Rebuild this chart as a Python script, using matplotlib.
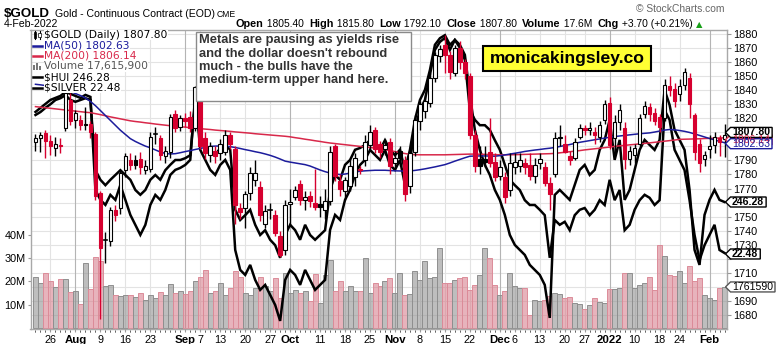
import matplotlib
matplotlib.use("Agg")
import matplotlib.pyplot as plt
import matplotlib.transforms as mtrans
from matplotlib.patches import Rectangle, Polygon
import numpy as np
import pandas as pd

W, H = 776, 344

# ---- trading calendar ----
holidays = pd.to_datetime(["2021-09-06", "2021-11-25", "2021-12-24", "2022-01-17"])
days = pd.bdate_range("2021-07-21", "2022-02-04")
days = days[~days.isin(holidays)]

# ---- $GOLD daily OHLC ----
opens = [1803, 1806, 1809.5, 1804, 1799, 1801, 1813, 1833, 1819, 1819, 1815, 1816, 1808.8, 1766.8,
         1733, 1732.4, 1755, 1756, 1783.4, 1790, 1790, 1791, 1783, 1784, 1809, 1806, 1793, 1796,
         1823, 1814, 1820, 1821, 1813, 1842, 1806, 1794, 1797, 1795, 1796, 1808, 1798, 1756,
         1756, 1767, 1776, 1771, 1745, 1754, 1751, 1736, 1726, 1759, 1764, 1773, 1762, 1765,
         1760, 1759, 1755, 1761, 1800, 1775, 1768, 1772, 1778, 1784, 1790, 1801, 1812, 1802,
         1798, 1803, 1788, 1797, 1790, 1772, 1796, 1818, 1825, 1831, 1849, 1864, 1872, 1865,
         1852, 1870, 1860, 1850, 1808, 1791, 1791, 1796, 1789, 1779, 1778, 1769, 1785, 1786,
         1788, 1787, 1779, 1788, 1785, 1774, 1780, 1806, 1802, 1793, 1792, 1807, 1813, 1812,
         1810, 1807, 1819, 1831, 1806, 1817, 1813, 1791, 1794, 1802, 1823, 1828, 1824, 1821,
         1820, 1843, 1841, 1837, 1844, 1849, 1822, 1802, 1791, 1798, 1801, 1806, 1805.4]
highs = [1809, 1810, 1812, 1808, 1807, 1806, 1841, 1838, 1826, 1822, 1828, 1818, 1810, 1768,
         1739, 1757, 1758, 1783, 1795, 1795, 1794, 1796, 1790, 1810, 1814, 1808, 1800, 1823,
         1826, 1822, 1824, 1825, 1843, 1845, 1810, 1803, 1800, 1805, 1812, 1810, 1800, 1760,
         1768, 1785, 1790, 1775, 1758, 1760, 1755, 1740, 1762, 1770, 1772, 1776, 1768, 1768,
         1784, 1765, 1770, 1800, 1802, 1780, 1778, 1790, 1795, 1786, 1808, 1815, 1814, 1804,
         1805, 1806, 1797, 1800, 1793, 1797, 1822, 1832, 1836, 1852, 1867, 1872, 1879, 1868,
         1872, 1875, 1862, 1852, 1812, 1800, 1800, 1820, 1795, 1790, 1782, 1795, 1795, 1795,
         1792, 1795, 1792, 1795, 1789, 1778, 1810, 1815, 1808, 1797, 1806, 1816, 1815, 1817,
         1814, 1818, 1833, 1835, 1822, 1830, 1817, 1800, 1802, 1823, 1832, 1831, 1827, 1823,
         1848, 1850, 1845, 1848, 1856, 1852, 1824, 1805, 1797, 1808, 1810, 1808, 1815.8]
lows = [1797, 1796, 1792, 1794, 1793, 1795, 1811, 1815, 1813, 1812, 1812, 1806, 1762, 1677,
        1717, 1729, 1747, 1752, 1778, 1783, 1784, 1780, 1780, 1782, 1802, 1790, 1788, 1792,
        1810, 1811, 1814, 1810, 1811, 1798, 1791, 1789, 1788, 1790, 1794, 1798, 1745, 1748,
        1742, 1762, 1772, 1747, 1742, 1748, 1736, 1721, 1723, 1743, 1762, 1758, 1755, 1757,
        1755, 1750, 1748, 1758, 1775, 1765, 1762, 1768, 1772, 1780, 1786, 1798, 1795, 1792,
        1794, 1780, 1784, 1786, 1761, 1767, 1793, 1812, 1820, 1828, 1846, 1860, 1852, 1848,
        1850, 1855, 1848, 1805, 1782, 1780, 1785, 1785, 1775, 1776, 1760, 1765, 1780, 1782,
        1780, 1776, 1774, 1784, 1772, 1755, 1778, 1800, 1795, 1787, 1790, 1805, 1808, 1808,
        1802, 1803, 1816, 1798, 1795, 1812, 1784, 1787, 1788, 1800, 1820, 1818, 1815, 1810,
        1818, 1836, 1828, 1832, 1840, 1820, 1790, 1782, 1786, 1792, 1795, 1793, 1792.1]
closes = [1806, 1808, 1803.6, 1800, 1802, 1800, 1838, 1818, 1824, 1815.5, 1816, 1810, 1764.5, 1727.7,
          1733.6, 1755, 1751.4, 1780.8, 1792.9, 1787, 1787, 1785, 1786, 1807, 1808.5, 1794, 1797, 1821,
          1813, 1820, 1818, 1813, 1842, 1800, 1795, 1800, 1793, 1802, 1808, 1802, 1758, 1753,
          1766, 1781, 1781, 1751, 1754, 1754.5, 1738, 1723, 1758, 1760.5, 1769, 1762, 1764, 1761,
          1757, 1757, 1761, 1796, 1779, 1770, 1776, 1786, 1792, 1783, 1803, 1810, 1798, 1796,
          1801, 1786, 1792, 1792, 1766, 1795, 1819, 1830, 1832, 1849, 1865, 1869, 1865, 1853,
          1870, 1860, 1852, 1808, 1786, 1786, 1789, 1788, 1778, 1785, 1764, 1788, 1789, 1790,
          1785, 1779, 1787, 1791, 1774, 1766, 1806, 1807, 1796, 1790, 1803, 1813, 1811.5, 1813,
          1808, 1815, 1830, 1801, 1817, 1826, 1791, 1797, 1799, 1820, 1829, 1823, 1818, 1814,
          1844, 1840, 1832, 1843, 1853, 1830, 1796, 1788, 1794, 1800, 1807, 1803, 1807.8]

# ---- volume, millions ----
volume = [21.8, 19.2, 23.6, 20.2, 17.5, 20.9, 20.9, 15.3, 15.9, 10.2, 28.0, 16.6, 30.6, 28.8,
          18.0, 18.6, 14.0, 13.6, 14.3, 14.3, 13.5, 15.0, 12.0, 14.0, 13.0, 15.5, 14.0, 19.0,
          15.0, 16.0, 14.5, 16.0, 20.0, 22.0, 25.0,
          15.0, 15.7, 19.3, 14.3, 17.1, 24.6, 22.1, 15.0, 14.3, 17.1, 22.1, 17.9, 15.7, 21.4,
          13.0, 23.6, 15.0, 16.5, 15.0, 16.0, 11.5, 23.1, 10.7, 22.9, 29.3, 16.0, 20.0, 16.0,
          18.0, 16.0, 16.0, 30.0, 15.0, 19.3, 18.0,
          20.0, 21.4, 15.0, 23.6, 14.3, 14.6, 24.3, 20.7, 28.6, 21.4, 22.1, 34.3, 19.3, 19.3,
          20.7, 21.4, 22.1, 16.4, 18.6, 22.9, 34.3, 30.0, 18.6, 14.3, 15.7, 23.6, 17.9, 17.1,
          17.1, 5.7, 12.1, 11.4, 12.1, 13.6,
          15.0, 14.6, 12.9, 13.1, 10.7, 10.3, 8.1, 10.0, 13.0, 11.0, 10.7, 16.7, 16.7, 17.0,
          23.6, 23.6, 17.1, 18.6, 19.3, 21.7, 16.4, 35.7, 31.1, 22.9, 22.4, 24.3, 19.3, 26.4,
          20.0, 21.4, 14.3, 12.9, 12.1, 17.1, 17.6]

# ---- moving averages ----
ma50 = [1844.2, 1843.8, 1843.3, 1842.7, 1842.0, 1841.2, 1840.2,
        1839.0, 1837.6, 1836.2, 1834.5, 1832.0, 1829.0, 1825.5,
        1822.0, 1818.5, 1815.0, 1811.5, 1808.5, 1805.5,
        1803.5, 1801.8, 1800.2, 1799.0, 1797.5, 1796.0, 1795.0,
        1794.6, 1794.8, 1795.5, 1796.3, 1797.0, 1797.8, 1798.5, 1799.3, 1800.0,
        1800.2, 1800.3, 1800.2, 1799.8, 1799.2, 1798.5, 1797.7,
        1797.0, 1796.2, 1795.5, 1794.6, 1793.6, 1792.4, 1791.0, 1789.5,
        1788.8, 1788.2, 1787.6, 1787.0, 1786.0, 1784.6, 1783.2,
        1782.0, 1781.0, 1780.3, 1780.0, 1780.3, 1781.0, 1781.8,
        1782.3, 1782.6, 1782.8, 1783.0, 1783.0, 1783.0, 1782.8, 1782.6, 1782.5, 1782.4, 1782.5,
        1782.9, 1783.4, 1784.0, 1784.7, 1785.4, 1786.2, 1787.0, 1788.2, 1789.5, 1790.7, 1791.9, 1793.0,
        1793.1, 1793.2, 1793.2, 1793.1, 1793.0, 1793.4, 1793.9, 1794.5, 1795.1, 1795.7, 1796.4,
        1796.9, 1797.4, 1797.8, 1798.3, 1798.7, 1799.2, 1799.9, 1800.6, 1801.3, 1802.1, 1802.9,
        1803.5, 1804.1, 1804.7, 1805.3, 1805.9, 1806.5, 1807.0, 1807.4, 1807.8, 1808.2, 1808.6,
        1809.0, 1809.3, 1809.6,
        1810.2, 1810.9, 1811.6, 1812.0, 1811.8, 1811.3, 1810.7, 1809.9, 1808.9, 1807.8, 1806.7,
        1805.6, 1804.6, 1803.6, 1802.6]
ma200 = [1828.3, 1827.9, 1827.5, 1827.1, 1826.7, 1826.3, 1825.9, 1825.5, 1825.1, 1824.7, 1824.3, 1824.0,
         1823.3, 1822.6, 1821.8, 1821.0, 1820.3, 1819.6, 1818.9, 1818.2,
         1817.7, 1817.3, 1816.8, 1816.4, 1815.9, 1815.5, 1815.1,
         1814.7, 1814.4, 1814.0, 1813.7, 1813.3, 1813.0, 1812.6, 1812.3, 1812.0,
         1811.6, 1811.3, 1811.0, 1810.7, 1810.3, 1810.0, 1809.7, 1809.4, 1809.0,
         1808.7, 1808.4, 1808.1, 1807.8, 1807.5, 1807.2, 1806.8,
         1806.2, 1805.7, 1805.1, 1804.6, 1804.0, 1803.5, 1802.9, 1802.4,
         1802.0, 1801.6, 1801.2, 1800.8, 1800.4, 1800.0, 1799.6, 1799.2, 1798.8, 1798.4,
         1797.7, 1797.0, 1796.3, 1795.6, 1794.9, 1794.3,
         1794.1, 1794.0, 1794.0, 1794.0, 1794.0, 1794.0, 1794.0, 1794.1, 1794.2, 1794.3,
         1794.4, 1794.5, 1794.5, 1794.4, 1794.3, 1794.2, 1794.1, 1794.0, 1794.0, 1794.0,
         1794.1, 1794.2, 1794.3, 1794.4, 1794.5, 1794.6, 1794.7, 1794.8, 1795.0,
         1795.4, 1795.8, 1796.2, 1796.6, 1797.0, 1797.5, 1797.9, 1798.3, 1798.7, 1799.1, 1799.5, 1800.0,
         1800.4, 1800.7, 1801.1, 1801.4, 1801.8, 1802.1, 1802.5,
         1802.9, 1803.3, 1803.7, 1804.1, 1804.5, 1805.0,
         1805.1, 1805.2, 1805.3, 1805.4, 1805.6, 1805.7, 1805.8, 1806.0, 1806.1]

# ---- overlays ----
hui = [264.3, 265.1, 265.9, 266.7, 267.1, 267.5, 268.3, 267.9, 267.5, 267.1, 267.7, 267.3,
       248.7, 246.7, 245.7, 247.7, 246.7, 249.7, 246.7, 243.7, 241.7, 239.7, 241.7,
       245.7, 247.7, 246.7, 248.7, 251.7, 252.7, 253.1, 253.7, 254.7, 267.7,
       256.7, 254.7, 252.7, 251.7, 253.7, 254.7, 252.7,
       236.7, 232.7, 231.7, 233.7, 230.7, 228.7, 229.7, 227.7, 225.7, 222.5,
       230.7, 232.7, 231.7, 229.7, 232.7, 230.7, 228.7, 229.7, 230.7,
       240.7, 243.7, 242.7, 246.7, 248.7, 251.7, 253.7, 254.7, 256.7,
       255.7, 254.7, 256.7, 253.7, 252.7, 254.7, 249.7,
       254.7, 260.7, 264.7, 266.7, 271.7, 276.7, 278.3, 279.1, 276.7, 278.7, 277.7, 275.7,
       267.7, 260.7, 256.7, 253.7, 251.7, 248.7,
       246.7, 243.7, 239.7, 237.7, 236.7, 235.7, 233.7, 232.7, 231.7, 229.7, 223.1,
       247.7, 248.7, 247.7, 246.7, 249.7, 252.7, 253.7, 251.7, 252.7, 256.7, 258.7, 262.7,
       254.7, 258.7, 246.7, 248.7, 252.7, 256.7, 258.7, 257.7, 256.7, 258.7, 268.7,
       265.7, 260.7, 258.7, 256.7, 248.7, 236.7, 233.7, 243.7, 246.7, 248.7, 246.7, 246.28]
silver = [24.78, 24.83, 24.90, 24.96, 25.03, 25.06, 25.11, 25.03, 25.00, 25.03, 25.06, 25.03,
          23.86, 23.70, 23.61, 23.70, 23.78, 23.86, 23.78, 23.70, 23.53, 23.45, 23.53,
          23.70, 23.78, 23.70, 23.86, 23.95, 24.03, 24.03, 24.06, 24.11, 25.03,
          24.36, 24.28, 24.20, 24.11, 24.23, 24.28, 24.20,
          23.20, 23.03, 23.11, 23.20, 22.95, 22.78, 22.86, 22.70, 22.61, 22.40,
          22.78, 22.95, 22.86, 22.70, 22.95, 22.78, 22.70, 22.78, 22.86,
          23.53, 23.78, 23.70, 23.95, 24.03, 24.20, 24.23, 24.28, 24.36,
          24.28, 24.20, 24.36, 24.20, 24.11, 24.20, 23.86,
          24.20, 24.70, 25.03, 25.20, 25.53, 25.95, 26.06, 26.11, 25.95, 26.03, 25.90, 25.70,
          24.86, 24.70, 24.61, 24.61, 24.53, 24.36,
          24.20, 23.95, 23.70, 23.61, 23.53, 23.36, 23.28, 23.28, 23.20, 23.11, 22.40,
          23.03, 22.95, 23.00, 22.86, 23.11, 23.20, 23.23, 23.11, 23.20, 23.36, 23.28, 23.70,
          23.36, 23.53, 22.86, 22.95, 23.20, 23.36, 23.45, 23.40, 23.28, 23.36, 24.86,
          24.70, 24.20, 24.03, 23.86, 23.36, 22.78, 22.36, 22.61, 22.78, 22.95, 22.53, 22.48]

# ---- date axis labels ----
tick_dates = ["2021-07-26", "2021-08-02", "2021-08-09", "2021-08-16", "2021-08-23", "2021-09-01",
              "2021-09-07", "2021-09-13", "2021-09-20", "2021-09-27", "2021-10-01", "2021-10-11",
              "2021-10-18", "2021-10-25", "2021-11-01", "2021-11-08", "2021-11-15", "2021-11-22",
              "2021-12-01", "2021-12-06", "2021-12-13", "2021-12-20", "2021-12-27", "2022-01-03",
              "2022-01-10", "2022-01-18", "2022-01-24", "2022-02-01"]
tick_labels = ["26", "Aug", "9", "16", "23", "Sep", "7", "13", "20", "27", "Oct", "11", "18", "25",
               "Nov", "8", "15", "22", "Dec", "6", "13", "20", "27", "2022", "10", "18", "24", "Feb"]
month_labels = {"Aug", "Sep", "Oct", "Nov", "Dec", "2022", "Feb"}

price_ticks = list(range(1680, 1881, 10))
hidden_price_labels = {1800, 1810, 1760, 1720, 1700}   # sit under the value tags
volume_ticks = [10, 20, 30, 40]

n = len(days)
for arr in (opens, highs, lows, closes, volume, ma50, ma200, hui, silver):
    assert len(arr) == n, len(arr)

x = np.arange(n)
RED = "#d6002f"
BLUE = "#1c1c9c"
MARED = "#d8284a"

plt.rcParams["font.family"] = ["Liberation Sans", "DejaVu Sans"]
fig = plt.figure(figsize=(W / 100, H / 100), dpi=100)
fig.patch.set_facecolor("white")

left, right, top, bottom = 30.5, 727.0, 29.5, 329.0
rect = [left / W, 1 - bottom / H, (right - left) / W, (bottom - top) / H]
xlim = (-1.0, n - 0.5)

ax_vol = fig.add_axes(rect)
ax_vol.set_zorder(1)
ax_hui = fig.add_axes(rect, sharex=ax_vol)
ax_slv = fig.add_axes(rect, sharex=ax_vol)
ax_hui.set_zorder(2)
ax_slv.set_zorder(2)
ax = fig.add_axes(rect, sharex=ax_vol)
ax.set_zorder(3)
for a in (ax_hui, ax_slv, ax):
    a.patch.set_alpha(0)

ax_vol.set_xlim(*xlim)
ax.set_ylim(1670.0, 1883.2)
ax_vol.set_ylim(-0.43, 128.1)
ax_hui.set_ylim(220.88, 280.78)
ax_slv.set_ylim(21.213, 26.205)

# grid (drawn in the bottom axes so everything else sits on top)
tick_pos = [days.get_loc(pd.Timestamp(d)) for d in tick_dates]
hline_tr = mtrans.blended_transform_factory(ax_vol.transAxes, ax.transData)
for p in price_ticks:
    ax_vol.plot([0, 1], [p, p], transform=hline_tr, color="#e3e3e3", lw=0.8, zorder=0)
for pos, lab in zip(tick_pos, tick_labels):
    col = "#b4b4b4" if lab in month_labels else "#e3e3e3"
    ax_vol.axvline(pos, color=col, lw=0.8, zorder=0)

# volume bars
up = [closes[i] >= (closes[i - 1] if i > 0 else opens[i]) for i in range(n)]
for i in range(n):
    if up[i]:
        fc, ec = ("#8a8a8a", 0.55), "#8f8f8f"
    else:
        fc, ec = ("#d57685", 0.55), "#dc8c99"
    ax_vol.bar(x[i], volume[i], width=1.0, color=fc, edgecolor=ec, linewidth=0.7, zorder=1)

ax_vol.set_yticks(volume_ticks)
ax_vol.set_yticklabels([f"{v}M" for v in volume_ticks])
ax_vol.tick_params(axis="y", left=True, labelleft=True, length=2.5, width=0.8, color="#999999",
                   labelsize=7.8, pad=1)
ax_vol.tick_params(axis="x", bottom=False, labelbottom=False)
for s in ax_vol.spines.values():
    s.set_color("#a8a8a8")
    s.set_linewidth(1.0)

# overlays
ax_hui.plot(x, hui, color="black", lw=1.8, solid_joinstyle="miter", zorder=2)
ax_slv.plot(x, silver, color="black", lw=1.8, solid_joinstyle="miter", zorder=2)
for a in (ax_hui, ax_slv):
    a.axis("off")

# moving averages
ax.plot(x, ma200, color=MARED, lw=1.1, zorder=2)
ax.plot(x, ma50, color=BLUE, lw=1.1, zorder=2)

# candlesticks
bw = 0.72
for i in range(n):
    o, h, l, c = opens[i], highs[i], lows[i], closes[i]
    col = "black" if up[i] else RED
    ax.plot([x[i], x[i]], [l, h], color=col, lw=1.0, zorder=3, solid_capstyle="butt")
    lo, hi = min(o, c), max(o, c)
    hollow = c > o
    if hi - lo < 0.6:
        ax.plot([x[i] - bw / 2, x[i] + bw / 2], [c, c], color=col, lw=1.2, zorder=4)
    else:
        ax.add_patch(Rectangle((x[i] - bw / 2, lo), bw, hi - lo,
                               facecolor="white" if hollow else col,
                               edgecolor=col, lw=0.8, zorder=4))

ax.yaxis.tick_right()
ax.set_yticks(price_ticks)
ax.set_yticklabels(["" if p in hidden_price_labels else str(p) for p in price_ticks])
ax.tick_params(axis="y", right=True, left=False, labelright=True, labelleft=False, length=3,
               width=0.8, color="#999999", labelsize=7.8, pad=1.5)
ax.set_xticks(tick_pos)
ax.set_xticklabels(tick_labels)
ax.set_xticks(x, minor=True)
ax.tick_params(axis="x", which="major", length=2.5, width=0.8, color="#999999", labelsize=7.8, pad=2)
ax.tick_params(axis="x", which="minor", length=1.5, width=0.6, color="#bbbbbb")
for t in ax.get_xticklabels():
    if t.get_text() in month_labels:
        t.set_fontweight("bold")
        t.set_fontsize(8.2)
for s in ax.spines.values():
    s.set_visible(False)
for a in (ax_hui, ax_slv):
    a.tick_params(bottom=False, labelbottom=False)

# ---- header ----
def px(xp, yp):
    return xp / W, 1 - yp / H

fig.text(*px(4, 16.8), "$GOLD", fontsize=9.6, fontweight="bold", va="baseline")
fig.text(*px(55, 16.8), "Gold - Continuous Contract (EOD)", fontsize=7.6, va="baseline")
fig.text(*px(217, 16.8), "CME", fontsize=6.2, va="baseline")
fig.text(*px(4, 26.6), "4-Feb-2022", fontsize=7.6, va="baseline")
fig.text(*px(725, 11.5), "\u00a9 StockCharts.com", fontsize=7.4, color="#666666", va="baseline",
         ha="right")

renderer = fig.canvas.get_renderer()
pieces = [("Open", True), (" 1805.40  ", False), ("High", True), (" 1815.80  ", False),
          ("Low", True), (" 1792.10  ", False), ("Close", True), (" 1807.80  ", False),
          ("Volume", True), (" 17.6M  ", False), ("Chg", True), (" +3.70 (+0.21%) ", False)]
xc = 236.0
for txt, bold in pieces:
    t = fig.text(*px(xc, 26.6), txt, fontsize=7.8 if bold else 7.4,
                 fontweight="bold" if bold else "normal", va="baseline")
    xc += t.get_window_extent(renderer).width
fig.text(*px(xc, 26.6), "\u25b2", fontsize=6, color="#18a018", va="baseline",
         family=["DejaVu Sans"])

# ---- legend ----
leg_rows = [("$GOLD (Daily) 1807.80", "black", "candle"),
            ("MA(50) 1802.63", BLUE, "line"),
            ("MA(200) 1806.14", MARED, "line"),
            ("Volume 17,615,900", "#555555", "vol"),
            ("$HUI 246.28", "black", "line"),
            ("$SILVER 22.48", "black", "line")]
for k, (txt, col, kind) in enumerate(leg_rows):
    yc = 35.0 + 10.5 * k
    fig.text(*px(44, yc), txt, fontsize=7.7, color=col, va="center", family=["DejaVu Sans"],
             bbox=dict(boxstyle="square,pad=0.02", fc="white", ec="none"), zorder=10)
    if kind == "line":
        fig.add_artist(plt.Line2D([33 / W, 42 / W], [1 - yc / H, 1 - yc / H], color=col, lw=1.8,
                                  transform=fig.transFigure, zorder=10))
    elif kind == "vol":
        for j, hh in enumerate([5, 7, 4]):
            fig.add_artist(Rectangle(((33 + 3 * j) / W, 1 - (yc + 3.5) / H), 2.2 / W, hh / H,
                                     transform=fig.transFigure, fc="#777777", ec="none", zorder=10))
    else:
        fig.add_artist(plt.Line2D([35 / W, 35 / W], [1 - (yc + 4) / H, 1 - (yc - 4) / H],
                                  color="black", lw=0.8, transform=fig.transFigure, zorder=10))
        fig.add_artist(Rectangle((33.8 / W, 1 - (yc + 2.5) / H), 2.4 / W, 5 / H,
                                 transform=fig.transFigure, fc="black", ec="black", lw=0.5,
                                 zorder=10))
        fig.add_artist(plt.Line2D([39.5 / W, 39.5 / W], [1 - (yc + 4) / H, 1 - (yc - 4) / H],
                                  color="black", lw=0.8, transform=fig.transFigure, zorder=10))
        fig.add_artist(Rectangle((38.3 / W, 1 - (yc + 2) / H), 2.4 / W, 4 / H,
                                 transform=fig.transFigure, fc="white", ec="black", lw=0.5,
                                 zorder=10))

# ---- comment boxes ----
fig.add_artist(Rectangle((196 / W, 1 - 101 / H), 215 / W, 69 / H, transform=fig.transFigure,
                         fc="white", ec="#8a8a8a", lw=1.0, zorder=10))
fig.text(*px(199.5, 34.5), "Metals are pausing as yields rise\nand the dollar doesn't rebound\n"
         "much - the bulls have the\nmedium-term upper hand here.",
         fontsize=9.3, fontweight="bold", color="#333333", va="top", linespacing=1.12, zorder=11)
fig.add_artist(Rectangle((483 / W, 1 - 71 / H), 168 / W, 25 / H, transform=fig.transFigure,
                         fc="#ffff33", ec="black", lw=1.5, zorder=10))
fig.text(*px(567, 59), "monicakingsley.co", fontsize=12.6, fontweight="bold", color="black",
         ha="center", va="center", zorder=11)

# ---- right-hand value tags ----
ident = mtrans.IdentityTransform()

def value_tag(axis, value, text, ec, tc, bold=True, shift=0.0):
    yd = axis.transData.transform((0, value))[1] + shift
    t = fig.text(732 / W, yd / H, text, fontsize=7.6, color=tc,
                 fontweight="bold" if bold else "normal", va="center", ha="left", zorder=21)
    bb = t.get_window_extent(renderer)
    h2 = 5.0
    poly = Polygon([(725.5, yd), (730.5, yd + h2), (bb.x1 + 2, yd + h2), (bb.x1 + 2, yd - h2),
                    (730.5, yd - h2)], closed=True, fc="white", ec=ec, lw=1.0,
                   transform=ident, zorder=20)
    fig.add_artist(poly)

value_tag(ax, 1806.14, "1806.14", MARED, MARED, bold=False, shift=-2)
value_tag(ax, 1802.63, "1802.63", BLUE, BLUE, bold=False, shift=-1)
value_tag(ax, 1807.8, "1807.80", "black", "black", shift=3)
value_tag(ax_hui, 246.28, "246.28", "black", "black")
value_tag(ax_slv, 22.48, "22.48", "black", "black", shift=-1)
value_tag(ax_vol, 17.6159, "1761590", "#555555", "black", bold=False)

fig.savefig("out.png", dpi=100, facecolor="white")
